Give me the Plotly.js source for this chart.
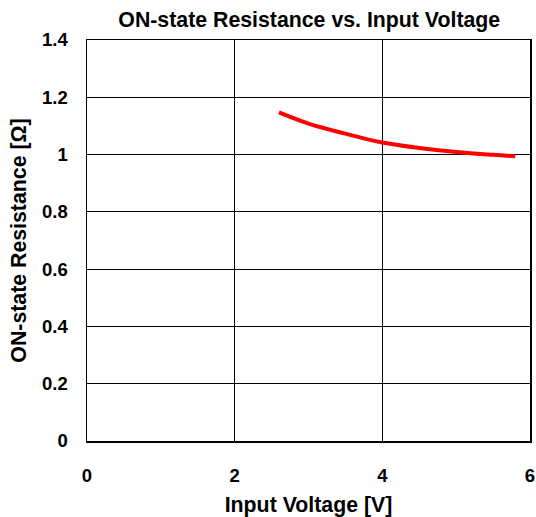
<!DOCTYPE html>
<html><head><meta charset="utf-8">
<script src="https://cdn.plot.ly/plotly-3.0.1.min.js"></script>
<style>body{margin:0;padding:0;background:#fff}</style>
</head><body>
<div id="chart" style="width:536px;height:517px"></div>
<script>
var voltage = [2.6, 3.0, 3.5, 4.0, 4.5, 5.0, 5.5, 5.8];
var resistance = [1.147, 1.108, 1.073, 1.042, 1.023, 1.009, 0.999, 0.994];
var xTicks = [0, 2, 4, 6];
var yTicks = [0, 0.2, 0.4, 0.6, 0.8, 1, 1.2, 1.4];
var yTickText = ['0', '0.2', '0.4', '0.6', '0.8', '1', '1.2', '1.4'];

function bold(s){ return '<b>' + s + '</b>'; }
var font = {family: 'Liberation Sans, Arial, sans-serif', color: '#000'};
Plotly.newPlot('chart', [{
  x: voltage, y: resistance, type: 'scatter', mode: 'lines',
  line: {color: '#ff0000', width: 4, shape: 'spline'}
}], {
  width: 536, height: 517,
  margin: {l: 87, r: 6, t: 40, b: 76},
  paper_bgcolor: '#fff', plot_bgcolor: '#fff',
  showlegend: false,
  title: {text: bold('ON-state Resistance vs. Input Voltage'), x: 0.577, xanchor: 'center', y: 0.962, yanchor: 'middle',
          font: Object.assign({size: 21.3}, font)},
  xaxis: {range: [0, 6], tickvals: xTicks, ticktext: xTicks.map(function(v){return bold(String(v));}),
          showgrid: true, gridcolor: '#000', gridwidth: 1, zeroline: false,
          showline: true, linecolor: '#000', linewidth: 1.5, mirror: true,
          ticks: '', ticklabelstandoff: 17,
          tickfont: Object.assign({size: 18.5}, font),
          title: {text: bold('Input Voltage [V]'), standoff: 15, font: Object.assign({size: 21.3}, font)}},
  yaxis: {range: [0, 1.4], tickvals: yTicks, ticktext: yTickText.map(bold),
          showgrid: true, gridcolor: '#000', gridwidth: 1, zeroline: false,
          showline: true, linecolor: '#000', linewidth: 1.5, mirror: true,
          ticks: '', ticklabelstandoff: 14,
          tickfont: Object.assign({size: 18.5}, font),
          title: {text: bold('ON-state Resistance [Ω]'), standoff: 9, font: Object.assign({size: 21.3}, font)}}
}, {displayModeBar: false, staticPlot: true});
</script>
</body></html>
